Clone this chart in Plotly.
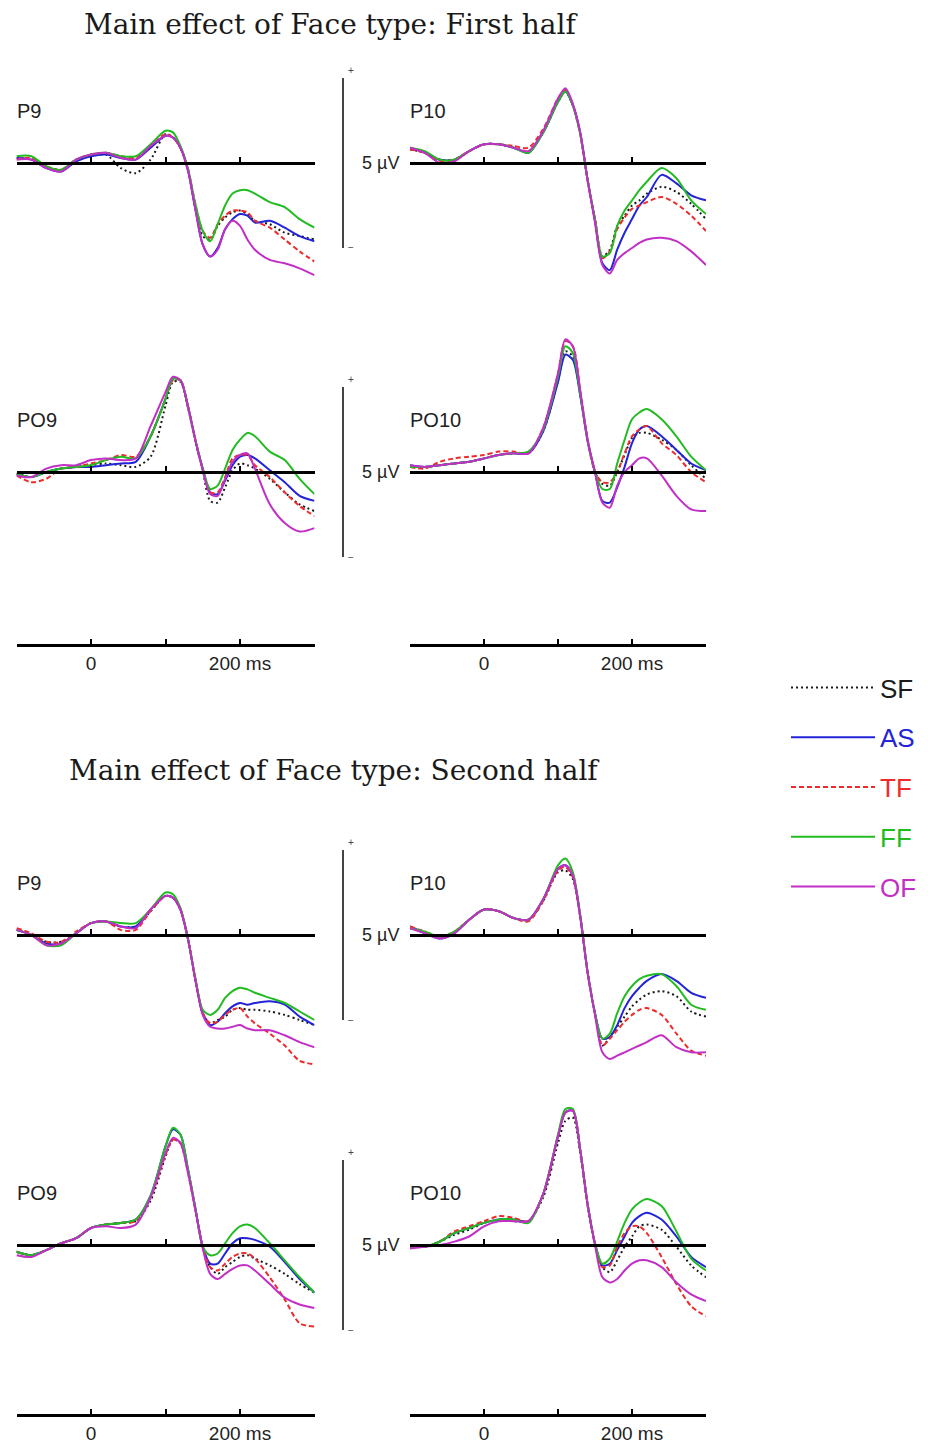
import plotly.graph_objects as go

W, H = 928, 1448          # browser window
OFF = 8                   # default page body margin
FW, FH = W - OFF, H - OFF # figure size so the page does not overflow
PX_PER_UV = 17.0          # vertical scale: 5 µV scale bar = 85 px

# ---------------- data (µV) ----------------
time_ms = [-100, -80, -60, -40, -20, 0, 20, 40, 60, 80, 100, 110, 120, 130, 140,
           150, 160, 170, 180, 190, 200, 210, 220, 240, 260, 280, 300]

conditions = ["SF", "AS", "TF", "FF", "OF"]

# First half
p9_first = {
    "SF": [0.3, 0.2, -0.2, -0.4, 0.2, 0.4, 0.5, -0.3, -0.6, 0.2, 1.7, 1.5, 0.9, -0.4, -2.6, -4.3, -4.5, -3.7, -3.2, -2.9, -2.8, -3.0, -3.4, -3.6, -4.1, -4.3, -4.5],
    "AS": [0.3, 0.2, -0.3, -0.5, 0.1, 0.4, 0.5, 0.3, 0.2, 0.9, 1.6, 1.5, 0.9, -0.4, -2.7, -4.8, -5.5, -5.0, -3.9, -3.3, -3.0, -3.1, -3.5, -3.4, -3.8, -4.3, -4.6],
    "TF": [0.2, 0.3, -0.2, -0.4, 0.2, 0.5, 0.6, 0.4, 0.3, 1.0, 1.7, 1.5, 0.9, -0.3, -2.4, -4.0, -4.4, -3.6, -3.1, -2.8, -2.8, -2.9, -3.4, -3.8, -4.5, -5.2, -5.8],
    "FF": [0.4, 0.4, -0.2, -0.4, 0.2, 0.5, 0.6, 0.4, 0.4, 1.1, 1.9, 1.8, 1.0, -0.3, -2.4, -4.0, -4.6, -3.6, -2.5, -1.8, -1.6, -1.6, -1.8, -2.3, -2.6, -3.3, -3.8],
    "OF": [0.2, 0.2, -0.3, -0.5, 0.2, 0.5, 0.6, 0.3, 0.2, 1.0, 1.6, 1.5, 0.9, -0.4, -2.7, -4.8, -5.5, -5.1, -3.9, -3.4, -3.7, -4.5, -5.1, -5.7, -5.9, -6.2, -6.6],
}
p10_first = {
    "SF": [0.8, 0.6, 0.2, 0.2, 0.7, 1.1, 1.1, 0.9, 0.7, 1.8, 3.6, 4.2, 3.4, 1.7, -1.0, -3.3, -5.5, -5.1, -3.7, -3.1, -2.5, -2.2, -1.8, -1.4, -1.7, -2.4, -3.3],
    "AS": [0.9, 0.6, 0.2, 0.2, 0.7, 1.1, 1.1, 0.9, 0.6, 1.8, 3.6, 4.2, 3.4, 1.8, -1.0, -3.4, -5.9, -6.3, -5.1, -4.1, -3.3, -2.5, -2.0, -0.7, -1.2, -1.9, -2.2],
    "TF": [0.8, 0.6, 0.1, 0.2, 0.7, 1.1, 1.1, 1.0, 0.9, 2.0, 3.8, 4.3, 3.4, 1.7, -1.0, -3.3, -5.6, -5.2, -3.9, -3.2, -2.7, -2.5, -2.3, -2.0, -2.4, -3.1, -4.0],
    "FF": [0.9, 0.7, 0.2, 0.2, 0.7, 1.1, 1.1, 0.9, 0.6, 1.8, 3.6, 4.2, 3.4, 1.7, -1.0, -3.3, -5.5, -5.3, -3.7, -2.8, -2.2, -1.6, -1.1, -0.3, -0.9, -2.2, -3.0],
    "OF": [0.9, 0.6, 0.0, 0.1, 0.7, 1.1, 1.1, 0.9, 0.7, 1.9, 3.8, 4.4, 3.5, 1.8, -1.0, -3.5, -6.0, -6.5, -5.7, -5.3, -5.0, -4.7, -4.5, -4.4, -4.6, -5.2, -6.0],
}
po9_first = {
    "SF": [-0.1, -0.3, 0.0, 0.2, 0.3, 0.4, 0.5, 0.4, 0.3, 0.9, 3.9, 5.3, 5.3, 3.8, 1.8, 0.1, -1.7, -1.8, -0.9, 0.1, 0.5, 0.4, 0.2, -0.4, -1.2, -1.9, -2.3],
    "AS": [-0.1, -0.3, 0.0, 0.2, 0.3, 0.3, 0.4, 0.5, 0.6, 2.1, 4.3, 5.5, 5.4, 3.9, 1.9, 0.2, -1.2, -1.3, -0.5, 0.4, 0.9, 1.0, 0.8, 0.1, -0.6, -1.4, -1.7],
    "TF": [-0.2, -0.6, -0.4, 0.2, 0.3, 0.5, 0.7, 1.0, 0.9, 2.1, 4.3, 5.4, 5.4, 3.9, 1.9, 0.2, -1.2, -1.2, -0.3, 0.8, 1.0, 1.0, 0.4, -0.3, -1.2, -2.0, -2.6],
    "FF": [-0.1, -0.3, 0.0, 0.2, 0.3, 0.4, 0.7, 0.9, 0.8, 2.1, 4.3, 5.5, 5.4, 3.9, 1.9, 0.2, -1.0, -0.8, 0.2, 1.3, 1.9, 2.3, 2.1, 1.2, 0.7, -0.4, -1.3],
    "OF": [-0.2, -0.3, 0.2, 0.4, 0.4, 0.7, 0.8, 0.7, 0.8, 2.7, 4.7, 5.6, 5.4, 3.9, 1.9, 0.1, -1.3, -1.4, -0.4, 0.6, 1.0, 1.1, 0.2, -1.9, -3.0, -3.5, -3.3],
}
po10_first = {
    "SF": [0.3, 0.3, 0.4, 0.5, 0.6, 0.8, 1.0, 1.1, 1.1, 2.4, 5.4, 7.1, 6.8, 4.6, 1.9, 0.0, -0.7, -0.8, 0.0, 1.0, 2.0, 2.3, 2.3, 1.9, 1.3, 0.4, -0.4],
    "AS": [0.4, 0.3, 0.4, 0.5, 0.6, 0.8, 1.0, 1.1, 1.1, 2.4, 5.3, 6.9, 6.6, 4.5, 1.8, 0.0, -1.7, -1.8, -0.9, 0.3, 1.7, 2.5, 2.7, 2.1, 1.3, 0.5, 0.1],
    "TF": [0.3, 0.2, 0.6, 0.8, 0.9, 1.0, 1.2, 1.2, 1.1, 2.6, 5.8, 7.7, 7.4, 4.8, 1.9, 0.0, -0.6, -0.6, 0.0, 1.1, 2.1, 2.5, 2.7, 1.7, 1.0, 0.0, -0.6],
    "FF": [0.3, 0.3, 0.4, 0.5, 0.6, 0.8, 1.0, 1.1, 1.2, 2.5, 5.6, 7.4, 7.0, 4.6, 1.9, 0.0, -1.0, -1.0, 0.5, 1.9, 3.1, 3.5, 3.7, 3.1, 2.1, 0.9, 0.1],
    "OF": [0.4, 0.3, 0.4, 0.5, 0.6, 0.8, 1.0, 1.1, 1.1, 2.6, 5.8, 7.8, 7.4, 4.8, 1.9, 0.0, -1.8, -2.1, -0.8, 0.0, 0.4, 0.8, 0.8, -0.2, -1.4, -2.2, -2.3],
}

# Second half
p9_second = {
    "SF": [0.3, 0.0, -0.4, -0.4, 0.1, 0.7, 0.8, 0.5, 0.5, 1.4, 2.3, 2.2, 1.5, -0.2, -2.6, -4.6, -5.2, -5.0, -4.8, -4.4, -4.3, -4.4, -4.4, -4.5, -4.7, -5.0, -5.3],
    "AS": [0.3, 0.0, -0.5, -0.5, 0.1, 0.7, 0.8, 0.5, 0.5, 1.5, 2.3, 2.2, 1.5, -0.2, -2.6, -4.6, -5.3, -5.1, -4.6, -4.2, -4.0, -4.1, -4.0, -3.9, -4.1, -4.8, -5.3],
    "TF": [0.4, 0.1, -0.4, -0.4, 0.2, 0.7, 0.8, 0.3, 0.3, 1.4, 2.3, 2.2, 1.5, -0.2, -2.6, -4.6, -5.2, -5.1, -4.7, -4.4, -4.3, -4.8, -5.2, -5.8, -6.5, -7.4, -7.6],
    "FF": [0.3, 0.0, -0.6, -0.6, 0.1, 0.7, 0.8, 0.7, 0.7, 1.5, 2.5, 2.4, 1.6, -0.2, -2.5, -4.4, -4.7, -4.4, -3.7, -3.3, -3.1, -3.2, -3.4, -3.7, -4.0, -4.5, -5.0],
    "OF": [0.3, 0.0, -0.6, -0.5, 0.1, 0.7, 0.8, 0.5, 0.4, 1.5, 2.3, 2.2, 1.5, -0.2, -2.6, -4.7, -5.4, -5.5, -5.5, -5.4, -5.3, -5.5, -5.6, -5.6, -5.9, -6.3, -6.6],
}
p10_second = {
    "SF": [0.4, 0.2, -0.1, 0.2, 0.9, 1.5, 1.4, 1.0, 0.9, 2.0, 3.7, 3.8, 3.3, 1.1, -2.2, -4.6, -6.5, -6.0, -5.4, -4.8, -4.2, -3.8, -3.5, -3.3, -3.6, -4.5, -4.8],
    "AS": [0.5, 0.1, -0.2, 0.1, 0.9, 1.5, 1.4, 1.0, 0.9, 2.1, 3.9, 4.1, 3.5, 1.1, -2.2, -4.6, -6.1, -6.0, -5.3, -4.3, -3.6, -3.1, -2.7, -2.3, -2.7, -3.4, -3.7],
    "TF": [0.5, 0.2, -0.1, 0.2, 0.9, 1.5, 1.4, 1.0, 0.8, 2.0, 3.8, 4.0, 3.4, 1.1, -2.2, -4.6, -6.5, -6.1, -5.6, -5.1, -4.7, -4.4, -4.3, -4.7, -5.8, -6.8, -7.1],
    "FF": [0.4, 0.2, -0.1, 0.2, 0.9, 1.5, 1.4, 1.0, 0.9, 2.1, 4.1, 4.5, 3.7, 1.2, -2.2, -4.6, -6.1, -5.8, -4.6, -3.6, -3.0, -2.6, -2.4, -2.3, -3.0, -4.1, -4.4],
    "OF": [0.4, 0.1, -0.2, 0.1, 0.9, 1.5, 1.4, 1.0, 0.9, 2.1, 3.9, 4.1, 3.5, 1.1, -2.2, -4.7, -6.9, -7.3, -7.1, -6.9, -6.7, -6.5, -6.3, -5.9, -6.6, -6.9, -6.9],
}
po9_second = {
    "SF": [-0.4, -0.6, -0.3, 0.1, 0.4, 1.0, 1.2, 1.3, 1.4, 2.6, 5.2, 6.2, 6.0, 4.3, 2.1, -0.1, -1.3, -1.7, -1.3, -1.0, -0.7, -0.6, -0.8, -1.2, -1.7, -2.3, -2.8],
    "AS": [-0.4, -0.6, -0.3, 0.1, 0.4, 1.0, 1.2, 1.3, 1.5, 2.9, 5.8, 6.8, 6.5, 4.5, 2.2, -0.1, -1.1, -1.1, -0.5, 0.1, 0.4, 0.4, 0.3, -0.1, -1.0, -2.0, -2.8],
    "TF": [-0.4, -0.6, -0.3, 0.1, 0.4, 1.0, 1.2, 1.3, 1.4, 2.8, 5.3, 6.2, 6.0, 4.3, 2.1, -0.1, -1.3, -1.5, -1.1, -0.7, -0.5, -0.5, -0.8, -1.9, -3.2, -4.6, -4.8],
    "FF": [-0.4, -0.6, -0.3, 0.1, 0.4, 1.0, 1.2, 1.3, 1.5, 2.9, 5.8, 6.9, 6.5, 4.5, 2.2, -0.1, -0.6, -0.5, 0.1, 0.7, 1.1, 1.2, 1.0, 0.1, -0.9, -1.9, -2.8],
    "OF": [-0.6, -0.7, -0.3, 0.1, 0.4, 1.0, 1.1, 1.0, 1.2, 2.8, 5.4, 6.3, 6.0, 4.3, 2.1, -0.2, -1.7, -2.0, -1.7, -1.4, -1.2, -1.2, -1.5, -2.3, -3.1, -3.5, -3.7],
}
po10_second = {
    "SF": [-0.1, -0.1, 0.2, 0.6, 0.9, 1.3, 1.5, 1.4, 1.4, 2.8, 6.0, 7.3, 7.5, 5.4, 2.3, 0.0, -1.3, -1.6, -0.9, -0.1, 0.5, 1.1, 1.2, 0.9, -0.1, -1.2, -1.9],
    "AS": [-0.1, -0.1, 0.2, 0.7, 1.0, 1.3, 1.5, 1.5, 1.4, 3.0, 6.4, 7.8, 7.9, 5.6, 2.4, 0.1, -1.2, -1.1, -0.3, 0.5, 1.3, 1.7, 1.9, 1.5, 0.5, -0.7, -1.3],
    "TF": [-0.1, -0.1, 0.2, 0.8, 1.1, 1.4, 1.7, 1.6, 1.4, 3.0, 6.4, 7.8, 7.9, 5.6, 2.4, 0.0, -1.3, -1.2, -0.1, 0.7, 1.1, 1.1, 0.7, -0.7, -2.3, -3.6, -4.2],
    "FF": [-0.1, -0.1, 0.2, 0.7, 1.0, 1.3, 1.5, 1.5, 1.3, 3.0, 6.5, 8.0, 8.0, 5.6, 2.4, 0.1, -1.1, -0.8, 0.2, 1.3, 2.1, 2.5, 2.7, 2.3, 0.8, -0.8, -1.5],
    "OF": [-0.2, -0.1, 0.0, 0.2, 0.5, 1.1, 1.4, 1.4, 1.4, 3.0, 6.4, 7.8, 7.9, 5.6, 2.4, 0.0, -1.9, -2.2, -2.0, -1.5, -1.1, -0.9, -0.9, -1.3, -2.2, -2.9, -3.3],
}

titles = ["Main effect of Face type: First half", "Main effect of Face type: Second half"]
time_tick_vals = [0, 100, 200]
time_tick_text = ["0", "", "200 ms"]
scale_label = "5 µV"
scale_uv = 5

# ---------------- styles / layout geometry ----------------
colors = {"SF": "#1a1a1a", "AS": "#2323d8", "TF": "#ee2b2b", "FF": "#22bb22", "OF": "#c22fc6"}
dashes = {"SF": "2px,3px", "AS": "solid", "TF": "5px,3px", "FF": "solid", "OF": "solid"}
legend_names = {c: f'<span style="color:{colors[c]}">{c}</span>' for c in conditions}

col_px = [(16.5, 314.5), (410.0, 706.0)]   # window-pixel extent of -100..300 ms
ABOVE, BELOW = 150, 140                     # panel pixel extent around zero line

panels = [
    (p9_first, "P9", 0, 163), (p10_first, "P10", 1, 163),
    (po9_first, "PO9", 0, 472), (po10_first, "PO10", 1, 472),
    (p9_second, "P9", 0, 935), (p10_second, "P10", 1, 935),
    (po9_second, "PO9", 0, 1245), (po10_second, "PO10", 1, 1245),
]
time_axes = [(0, 645), (1, 645), (0, 1415), (1, 1415)]
scale_bars = [(1, 163), (3, 472), (5, 935), (7, 1245)]  # (panel index of row, zero px)
title_pos = [(331, 25), (334, 770)]

def px_x(p):
    return (p - OFF) / FW

def px_y(p):
    return 1 - (p - OFF) / FH

fig = go.Figure()
layout = dict(
    width=FW, height=FH, margin=dict(l=0, r=0, t=0, b=0),
    paper_bgcolor="white", plot_bgcolor="rgba(0,0,0,0)",
    showlegend=True,
    legend=dict(x=px_x(786), y=px_y(664), xanchor="left", yanchor="top",
                font=dict(family="Liberation Sans, Arial", size=26, color="#222"),
                itemwidth=84, tracegroupgap=13, bgcolor="rgba(0,0,0,0)"),
)
annotations = []
shapes = []

for i, (data, label, col, zero) in enumerate(panels, start=1):
    xa, ya = f"xaxis{i}", f"yaxis{i}"
    x0, x1 = col_px[col]
    layout[xa] = dict(domain=[px_x(x0), px_x(x1)], range=[-100, 300], anchor="free",
                      position=px_y(zero), showline=True, linecolor="black", linewidth=2.8,
                      ticks="inside", ticklen=5, tickwidth=1.5, tickcolor="black",
                      tickvals=[-100, 0, 100, 200], showticklabels=False,
                      showgrid=False, zeroline=False, fixedrange=True)
    layout[ya] = dict(domain=[px_y(zero + BELOW), px_y(zero - ABOVE)],
                      range=[-BELOW / PX_PER_UV, ABOVE / PX_PER_UV],
                      visible=False, fixedrange=True)
    for c in conditions:
        fig.add_trace(go.Scatter(
            x=time_ms, y=data[c], mode="lines", xaxis=f"x{i}", yaxis=f"y{i}",
            line=dict(color=colors[c], width=2, dash=dashes[c], shape="spline", smoothing=0.8),
            name=legend_names[c], legendgroup=c, showlegend=(i == 1), hoverinfo="skip"))
    annotations.append(dict(text=label, x=px_x(x0 - 2), y=px_y(zero - 52), xref="paper", yref="paper",
                            xanchor="left", yanchor="middle", showarrow=False,
                            font=dict(family="Liberation Sans, Arial", size=20, color="#222")))

for j, (col, ypx) in enumerate(time_axes, start=9):
    x0, x1 = col_px[col]
    layout[f"xaxis{j}"] = dict(domain=[px_x(x0), px_x(x1)], range=[-100, 300], anchor="free",
                               position=px_y(ypx), showline=True, linecolor="black", linewidth=2.8,
                               ticks="inside", ticklen=5, tickwidth=1.5, tickcolor="black",
                               tickvals=time_tick_vals, ticktext=time_tick_text,
                               tickfont=dict(family="Liberation Sans, Arial", size=19, color="#222"),
                               showgrid=False, zeroline=False, fixedrange=True)
    layout[f"yaxis{j}"] = dict(domain=[px_y(ypx + 2), px_y(ypx - 2)], range=[0, 1],
                               visible=False, fixedrange=True)
    fig.add_trace(go.Scatter(x=[None], y=[None], xaxis=f"x{j}", yaxis=f"y{j}",
                             showlegend=False, hoverinfo="skip"))

for (pidx, zero) in scale_bars:
    yref = f"y{pidx}"
    shapes.append(dict(type="line", xref="paper", yref=yref, x0=px_x(343), x1=px_x(343),
                       y0=-scale_uv, y1=scale_uv, line=dict(color="#444", width=2)))
    annotations.append(dict(text="+", x=px_x(346), y=scale_uv, xref="paper", yref=yref,
                            xanchor="left", yanchor="bottom", showarrow=False,
                            font=dict(family="Liberation Sans, Arial", size=10, color="#444")))
    annotations.append(dict(text="−", x=px_x(346), y=-scale_uv, xref="paper", yref=yref,
                            xanchor="left", yanchor="middle", showarrow=False,
                            font=dict(family="Liberation Sans, Arial", size=10, color="#444")))
    annotations.append(dict(text=scale_label, x=px_x(401), y=0, xref="paper", yref=yref,
                            xanchor="right", yanchor="middle", showarrow=False,
                            font=dict(family="Liberation Sans, Arial", size=18, color="#222")))

for t, (cx, cy) in zip(titles, title_pos):
    annotations.append(dict(text=t, x=px_x(cx), y=px_y(cy), xref="paper", yref="paper",
                            xanchor="center", yanchor="middle", showarrow=False,
                            font=dict(family="DejaVu Serif, serif", size=28, color="#1a1a1a")))

layout["annotations"] = annotations
layout["shapes"] = shapes
fig.update_layout(**layout)
fig.write_html("out.html")
